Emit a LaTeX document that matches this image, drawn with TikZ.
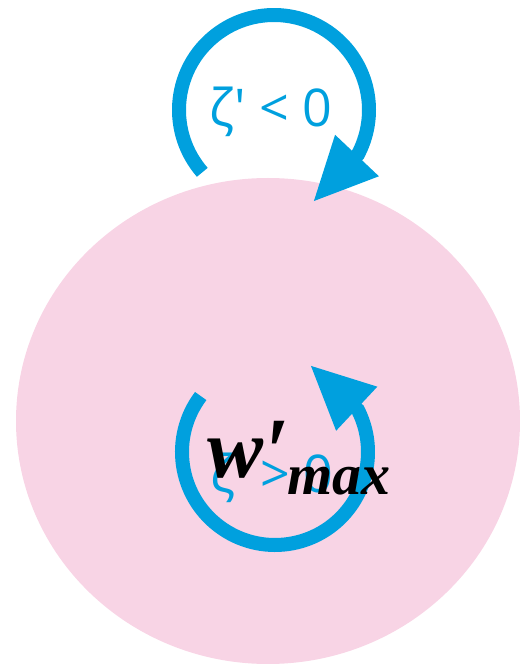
\documentclass[tikz,border=0pt]{standalone}
\usepackage{fontspec}
\usepackage{graphicx}
\usetikzlibrary{arrows.meta,shapes.geometric}
\newfontfamily\zetafont{Open Sans}[Ligatures=TeXOff]
\newfontfamily\wfont{Liberation Serif}
\definecolor{cellpink}{RGB}{248,212,229}
\definecolor{loopblue}{RGB}{0,160,222}
\tikzset{
  looparc/.style={draw=loopblue, line width=14pt, -{Triangle[length=64pt,width=56pt]}},
  zlabel/.style={text=loopblue, font=\zetafont\fontsize{52}{52}\selectfont, inner sep=0pt},
  wlabel/.style={text=black, inner sep=0pt, anchor=base west}
}
\begin{document}
\begin{tikzpicture}[x=1pt,y=1pt]
\useasboundingbox (0,0) rectangle (520,665);
\node[ellipse, fill=cellpink, minimum width=504pt, minimum height=486pt, inner sep=0pt] (cell) at (268,244) {};
\coordinate (ctop) at (274,555);
\coordinate (tiptop) at (313,463);
\coordinate (cbot) at (275,213);
\coordinate (tipbot) at (310,300);
\draw[looparc] (ctop) ++(221:95) arc[start angle=221, end angle=-28, radius=95] -- (tiptop);
\node[zlabel] (ztop) at (271,553) {ζ' < 0};
\draw[looparc] (cbot) ++(143:93) arc[start angle=143, end angle=387, radius=93] -- (tipbot);
\node[zlabel] (zbot) at (272,187) {ζ' > 0};
\node[wlabel] (w) at (207,187) {\wfont\bfseries\itshape\fontsize{84}{84}\selectfont w\kern2pt\raisebox{-7pt}{\scalebox{1.0}[1.15]{′}}\kern-1pt\raisebox{-17pt}{\fontsize{58}{58}\selectfont max}};
\end{tikzpicture}
\end{document}
